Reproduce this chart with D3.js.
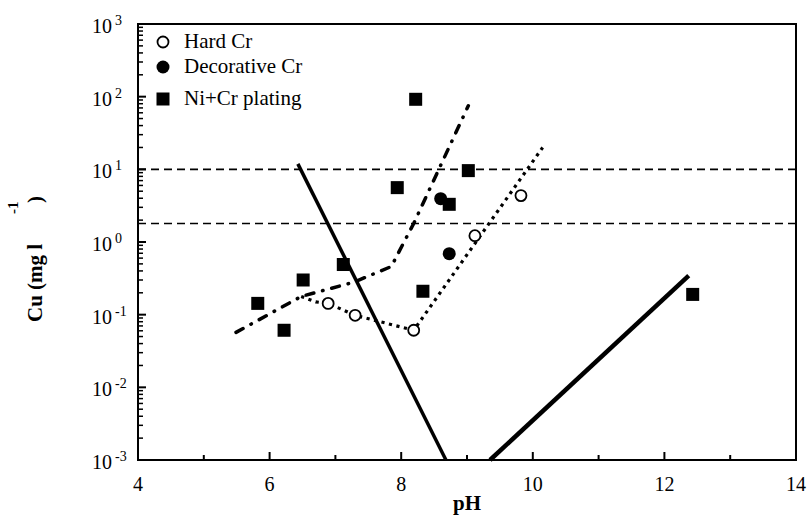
<!DOCTYPE html>
<html><head><meta charset="utf-8">
<script src="https://cdn.jsdelivr.net/npm/d3@7"></script>
<style>body{margin:0;background:#fff}svg{display:block}</style>
</head><body><svg id="c" width="808" height="517"></svg>
<script>
// ---- data ----
const hardCrPH = [6.89, 7.30, 8.19, 9.12, 9.82];
const hardCrCu = [0.143, 0.098, 0.061, 1.22, 4.35];
const decoCrPH = [8.60, 8.73];
const decoCrCu = [3.95, 0.69];
const niCrPH = [5.82, 6.22, 6.51, 7.12, 7.94, 8.22, 8.33, 8.73, 9.02, 12.43];
const niCrCu = [0.143, 0.061, 0.30, 0.49, 5.6, 92, 0.21, 3.3, 9.6, 0.19];
const solid1PH = [6.43, 8.68];
const solid1Cu = [11.9, 0.001];
const solid2PH = [9.35, 12.37];
const solid2Cu = [0.001, 0.345];
const dashDotPH = [5.49, 6.48, 7.28, 7.85, 8.19, 9.02];
const dashDotCu = [0.057, 0.178, 0.28, 0.46, 1.8, 75];
const dottedPH = [6.48, 6.70, 6.89, 7.30, 8.19, 10.15];
const dottedCu = [0.178, 0.15, 0.143, 0.098, 0.061, 20];
const hLines = [10, 1.8];
const xTicks = [4, 6, 8, 10, 12, 14];
const xMinor = [5, 7, 9, 11, 13];
const yExps = [3, 2, 1, 0, -1, -2, -3];
const legendLabels = ["Hard Cr", "Decorative Cr", "Ni+Cr plating"];

// ---- layout ----
const svg = d3.select("#c");
const FF = "Liberation Serif";
const L = 138, R = 796, T = 24, B = 460;
const x = d3.scaleLinear().domain([4, 14]).range([L, R]);
const y = d3.scaleLog().domain([1e-3, 1e3]).range([B, T]);
const zip = (a, b) => a.map((v, i) => [v, b[i]]);
const line = d3.line().x(d => x(d[0])).y(d => y(d[1]));

// reference lines
svg.selectAll(".hl").data(hLines).enter().append("line")
  .attr("x1", L).attr("x2", R).attr("y1", d => y(d)).attr("y2", d => y(d))
  .attr("stroke", "#000").attr("stroke-width", 1.6).attr("stroke-dasharray", "8,5");

svg.append("path").datum(zip(solid1PH, solid1Cu)).attr("d", line)
  .attr("fill", "none").attr("stroke", "#000").attr("stroke-width", 3.5);
svg.append("path").datum(zip(solid2PH, solid2Cu)).attr("d", line)
  .attr("fill", "none").attr("stroke", "#000").attr("stroke-width", 4.5);
svg.append("path").datum(zip(dashDotPH, dashDotCu)).attr("d", line)
  .attr("fill", "none").attr("stroke", "#000").attr("stroke-width", 3.5)
  .attr("stroke-linecap", "round").attr("stroke-dasharray", "8,9,0.5,9");
svg.append("path").datum(zip(dottedPH, dottedCu)).attr("d", line)
  .attr("fill", "none").attr("stroke", "#000").attr("stroke-width", 3.2)
  .attr("stroke-dasharray", "3.2,4.5");

// markers
svg.selectAll(".sq").data(zip(niCrPH, niCrCu)).enter().append("rect")
  .attr("x", d => x(d[0]) - 6.5).attr("y", d => y(d[1]) - 6.5)
  .attr("width", 13).attr("height", 13).attr("fill", "#000");
svg.selectAll(".fc").data(zip(decoCrPH, decoCrCu)).enter().append("circle")
  .attr("cx", d => x(d[0])).attr("cy", d => y(d[1])).attr("r", 6.5).attr("fill", "#000");
svg.selectAll(".oc").data(zip(hardCrPH, hardCrCu)).enter().append("circle")
  .attr("cx", d => x(d[0])).attr("cy", d => y(d[1])).attr("r", 5.5)
  .attr("fill", "#fff").attr("stroke", "#000").attr("stroke-width", 1.8);

// frame
svg.append("rect").attr("x", L).attr("y", T).attr("width", R - L).attr("height", B - T)
  .attr("fill", "none").attr("stroke", "#000").attr("stroke-width", 2);

// x axis ticks (inward)
svg.selectAll(".xt").data(xTicks).enter().append("line")
  .attr("x1", d => x(d)).attr("x2", d => x(d)).attr("y1", B).attr("y2", B - 8)
  .attr("stroke", "#000").attr("stroke-width", 2);
svg.selectAll(".xm").data(xMinor).enter().append("line")
  .attr("x1", d => x(d)).attr("x2", d => x(d)).attr("y1", B).attr("y2", B - 5)
  .attr("stroke", "#000").attr("stroke-width", 2);
svg.selectAll(".xl").data(xTicks).enter().append("text")
  .style("font-family", FF)
  .attr("x", d => x(d)).attr("y", 491).attr("text-anchor", "middle")
  .attr("font-size", 20).text(d => d);

// y axis ticks
const yMajor = yExps.map(e => Math.pow(10, e));
const yMin = [];
for (let e = -3; e < 3; e++) for (let k = 2; k <= 9; k++) yMin.push(k * Math.pow(10, e));
svg.selectAll(".yt").data(yMajor).enter().append("line")
  .attr("x1", L).attr("x2", L + 8).attr("y1", d => y(d)).attr("y2", d => y(d))
  .attr("stroke", "#000").attr("stroke-width", 2);
svg.selectAll(".ym").data(yMin).enter().append("line")
  .attr("x1", L).attr("x2", L + 5).attr("y1", d => y(d)).attr("y2", d => y(d))
  .attr("stroke", "#000").attr("stroke-width", 1.5);
const yl = svg.selectAll(".yl").data(yExps).enter().append("g");
yl.append("text").style("font-family", FF).attr("x", 112).attr("y", d => y(Math.pow(10, d)) + 9)
  .attr("text-anchor", "end").attr("font-size", 20).text("10");
yl.append("text").style("font-family", FF).attr("x", 115).attr("y", d => y(Math.pow(10, d)) + 1)
  .attr("font-size", 14).text(d => d < 0 ? "-" + Math.abs(d) : d);

// axis titles
svg.append("text").style("font-family", FF).attr("x", (L + R) / 2).attr("y", 510).attr("text-anchor", "middle")
  .attr("font-size", 21).attr("font-weight", "bold").text("pH");
const yt = svg.append("g").attr("transform", "rotate(-90)");
yt.append("text").style("font-family", FF).attr("font-weight", "bold").attr("x", -322).attr("y", 42).attr("font-size", 21).text("Cu (mg l");
yt.append("text").style("font-family", FF).attr("font-weight", "bold").attr("x", -214).attr("y", 18).attr("font-size", 15).text("-1");
yt.append("text").style("font-family", FF).attr("font-weight", "bold").attr("x", -203).attr("y", 42).attr("font-size", 21).text(")");

// legend
const lg = svg.append("g");
const ly = [42, 67, 99];
lg.append("circle").attr("cx", 163).attr("cy", ly[0]).attr("r", 5.5)
  .attr("fill", "#fff").attr("stroke", "#000").attr("stroke-width", 1.8);
lg.append("circle").attr("cx", 163).attr("cy", ly[1]).attr("r", 6.5).attr("fill", "#000");
lg.append("rect").attr("x", 163 - 6.5).attr("y", ly[2] - 6.5).attr("width", 13).attr("height", 13).attr("fill", "#000");
lg.selectAll(".lt").data(legendLabels).enter().append("text").style("font-family", FF)
  .attr("x", 184).attr("y", (d, i) => ly[i] + 6).attr("font-size", 21).text(d => d);
</script></body></html>
